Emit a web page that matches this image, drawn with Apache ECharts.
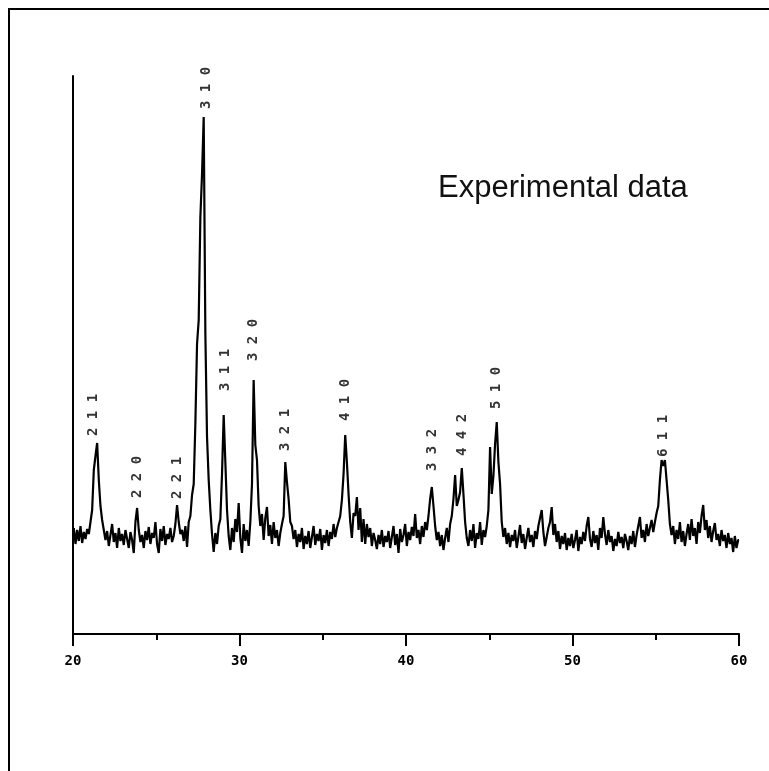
<!DOCTYPE html>
<html>
<head>
<meta charset="utf-8">
<script src="https://cdn.jsdelivr.net/npm/echarts@6/dist/echarts.min.js"></script>
<style>
  html, body { margin: 0; padding: 0; background: #fff; }
  #main { width: 769px; height: 771px; }
</style>
</head>
<body>
<div id="main"></div>
<script>
// XRD scan, 2-theta from 20 to 60 deg, step 0.1
var thetaStart = 20
var thetaStep = 0.1
var intensity = [
  98, 106, 90, 104, 93, 108, 91, 102, 95, 105,
  100, 112, 124, 164, 178, 191, 154, 128, 114, 104,
  94, 103, 88, 99, 110, 92, 101, 86, 106, 93,
  100, 89, 104, 95, 86, 102, 94, 81, 112, 126,
  104, 92, 99, 86, 103, 94, 107, 90, 101, 96,
  112, 90, 81, 105, 93, 108, 89, 100, 95, 106,
  92, 98, 110, 129, 112, 100, 104, 93, 108, 87,
  112, 118, 139, 150, 211, 290, 314, 417, 460, 517,
  300, 197, 154, 124, 100, 82, 101, 90, 108, 115,
  160, 219, 172, 124, 98, 84, 106, 92, 115, 102,
  131, 96, 81, 110, 93, 104, 88, 112, 150, 254,
  189, 174, 128, 108, 120, 94, 116, 127, 98, 109,
  90, 112, 96, 104, 88, 101, 110, 118, 172, 152,
  135, 112, 108, 95, 104, 87, 100, 92, 106, 85,
  98, 90, 103, 86, 97, 108, 89, 100, 93, 105,
  84, 99, 91, 104, 88, 102, 95, 110, 97, 106,
  112, 118, 134, 160, 199, 172, 140, 112, 96, 121,
  118, 137, 104, 126, 92, 115, 90, 110, 97, 106,
  88, 101, 94, 85, 99, 90, 104, 87, 98, 92,
  103, 86, 97, 108, 89, 100, 81, 105, 92, 99,
  110, 88, 102, 94, 107, 98, 120, 96, 104, 90,
  108, 97, 112, 104, 118, 135, 147, 128, 108, 94,
  102, 88, 99, 84, 96, 106, 92, 110, 118, 135,
  159, 128, 134, 142, 166, 140, 112, 96, 88, 104,
  93, 110, 86, 101, 95, 112, 89, 104, 97, 108,
  124, 187, 140, 158, 190, 212, 172, 150, 112, 97,
  106, 90, 101, 87, 99, 93, 104, 86, 97, 109,
  91, 100, 85, 96, 106, 92, 99, 87, 103, 95,
  108, 116, 124, 102, 88, 97, 106, 112, 127, 99,
  110, 92, 103, 85, 98, 90, 101, 84, 96, 88,
  100, 86, 94, 104, 83, 97, 90, 102, 93, 108,
  117, 95, 87, 103, 91, 99, 84, 106, 96, 117,
  100, 89, 104, 92, 98, 83, 95, 88, 102, 91,
  97, 86, 100, 93, 84, 98, 90, 103, 87, 99,
  108, 117, 96, 104, 92, 110, 98, 106, 114, 102,
  112, 121, 128, 154, 174, 168, 174, 154, 134, 110,
  99, 108, 90, 104, 95, 112, 92, 103, 88, 100,
  110, 94, 115, 98, 106, 90, 112, 101, 118, 129,
  104, 114, 96, 108, 92, 103, 111, 94, 100, 88,
  104, 93, 99, 86, 101, 90, 96, 82, 98, 86,
  94
]

// peak indices (hkl) and where their labels sit
var hkl = ["211", "220", "221", "310", "311", "320", "321", "410", "332", "442", "510", "611"]
var labelTheta = [21.2, 23.85, 26.25, 27.98, 29.13, 30.81, 32.73, 36.34, 41.56, 43.36, 45.4, 55.44]
var labelY = [219, 157, 156, 546, 264, 294, 204, 234, 184, 199, 246, 198]

var xTicks = [20, 30, 40, 50, 60]

var scan = intensity.map(function (v, i) {
  return [+(thetaStart + i * thetaStep).toFixed(1), v]
})
var labels = hkl.map(function (h, i) {
  return [labelTheta[i], labelY[i], h]
})

var chartDom = document.getElementById("main")
var myChart = echarts.init(chartDom)
var option

option = {
  animation: false,
  backgroundColor: "#fff",
  title: {
    text: "Experimental data",
    left: 433,
    top: 168,
    textStyle: {
      fontFamily: "Liberation Sans",
      fontSize: 31,
      fontWeight: "normal",
      color: "#111"
    }
  },
  graphic: [
    {
      type: "rect",
      shape: { x: 9, y: 9, width: 820, height: 820 },
      style: { fill: "none", stroke: "#000", lineWidth: 2 }
    }
  ],
  grid: {
    left: 73,
    right: 30,
    top: 76,
    bottom: 137
  },
  xAxis: {
    type: "value",
    min: xTicks[0],
    max: xTicks[xTicks.length - 1],
    interval: 10,
    splitLine: { show: false },
    axisLine: { show: true, onZero: false, lineStyle: { color: "#000", width: 2 } },
    axisTick: { show: true, inside: false, length: 12, lineStyle: { color: "#000", width: 2 } },
    minorTick: { show: true, splitNumber: 2, length: 6, lineStyle: { color: "#000", width: 2 } },
    axisLabel: {
      margin: 20,
      color: "#000",
      fontFamily: "DejaVu Sans Mono",
      fontWeight: "bold",
      fontSize: 14
    }
  },
  yAxis: {
    type: "value",
    min: 0,
    max: 558,
    splitLine: { show: false },
    axisLine: { show: true, lineStyle: { color: "#000", width: 2 } },
    axisTick: { show: false },
    axisLabel: { show: false }
  },
  series: [
    {
      name: "scan",
      type: "line",
      step: "middle",
      data: scan,
      showSymbol: false,
      lineStyle: { color: "#000", width: 2.2 }
    },
    {
      name: "hkl",
      type: "scatter",
      data: labels,
      symbolSize: 0,
      label: {
        show: true,
        position: "inside",
        rotate: 90,
        color: "#000",
        fontFamily: "DejaVu Sans Mono",
        fontWeight: "bold",
        fontSize: 14,
        formatter: function (p) {
          return p.value[2].split("").join(" ")
        }
      }
    }
  ]
}

option && myChart.setOption(option)
</script>
</body>
</html>
